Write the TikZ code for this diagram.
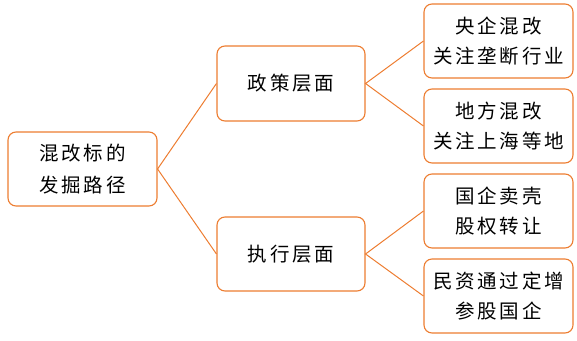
\documentclass[tikz,border=0pt]{standalone}
\usepackage{fontspec}
\newfontfamily\cjk[LetterSpace=14]{Noto Sans CJK SC}
\definecolor{orng}{RGB}{237,125,49}
\begin{document}
\begin{tikzpicture}[x=1pt,y=-1pt,
  box/.style={draw=orng,line width=1.1pt,rounded corners=8pt,fill=white,
    inner sep=0pt,align=center,font=\cjk\fontsize{19.5}{30}\selectfont,text=black},
  link/.style={draw=orng,line width=1pt}]
\useasboundingbox (0,0) rectangle (577,340);
\node[box,minimum width=149pt,minimum height=74pt] (root) at (82.5,169) {混改标的\\[2pt]发掘路径};
\node[box,minimum width=148pt,minimum height=75pt] (zc) at (291,83.5) {政策层面};
\node[box,minimum width=148pt,minimum height=74pt] (zx) at (291,254) {执行层面};
\node[box,minimum width=149pt,minimum height=74pt] (r1) at (498.5,41) {央企混改\\关注垄断行业};
\node[box,minimum width=149pt,minimum height=74pt] (r2) at (498.5,126) {地方混改\\关注上海等地};
\node[box,minimum width=149pt,minimum height=74pt] (r3) at (498.5,211) {国企卖壳\\股权转让};
\node[box,minimum width=149pt,minimum height=74pt] (r4) at (498.5,296) {民资通过定增\\参股国企};
\draw[link] (zc.west) -- (root.east) -- (zx.west);
\draw[link] (r1.west) -- (zc.east) -- (r2.west);
\draw[link] (r3.west) -- (zx.east) -- (r4.west);
\end{tikzpicture}
\end{document}
